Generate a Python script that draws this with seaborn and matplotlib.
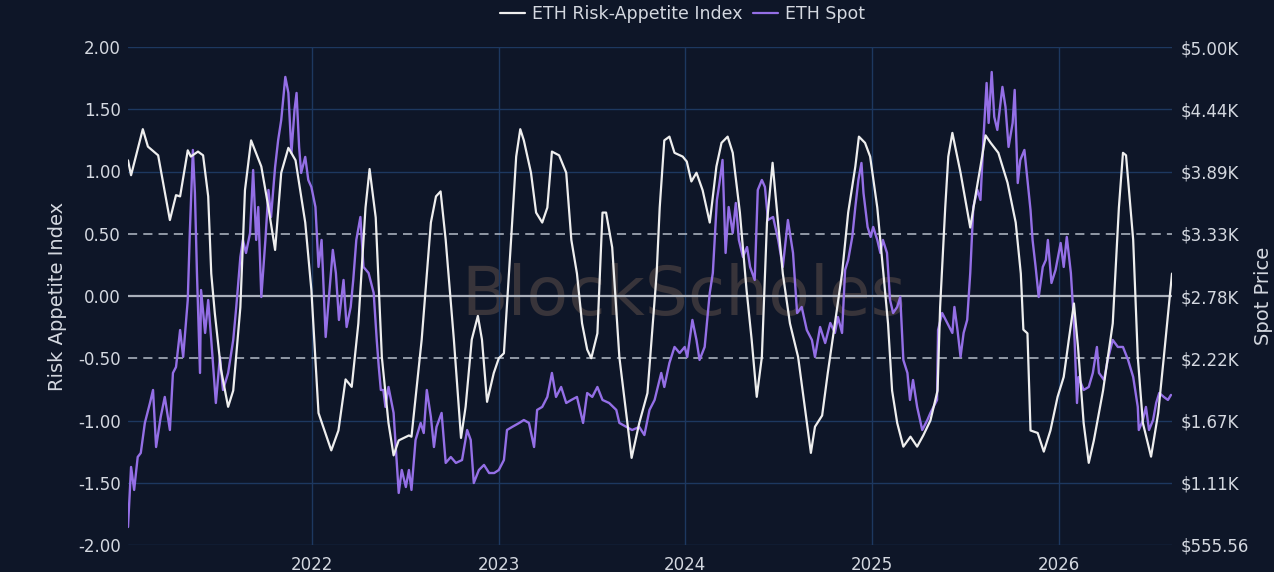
import pandas as pd
import matplotlib.pyplot as plt
import matplotlib.dates as mdates
from matplotlib.lines import Line2D
from matplotlib.ticker import FixedLocator, FuncFormatter
import seaborn as sns

# ============================================
# DATA
# ============================================

idx_dates = [
    "2021-01-05", "2021-01-11", "2021-02-03", "2021-02-13", "2021-03-05", "2021-03-28", "2021-04-09", "2021-04-17",
    "2021-05-02", "2021-05-08", "2021-05-22", "2021-06-01", "2021-06-11", "2021-06-17", "2021-06-24", "2021-07-06",
    "2021-07-20", "2021-07-30", "2021-08-13", "2021-08-22", "2021-09-03", "2021-09-23", "2021-10-07", "2021-10-20",
    "2021-11-01", "2021-11-15", "2021-11-29", "2021-12-18", "2021-12-30",
    "2022-01-13", "2022-02-07", "2022-02-21", "2022-03-07", "2022-03-19", "2022-04-01", "2022-04-15", "2022-04-23",
    "2022-05-05", "2022-05-17", "2022-05-30", "2022-06-09", "2022-06-19", "2022-07-09", "2022-07-14", "2022-08-03",
    "2022-08-21", "2022-08-31", "2022-09-09", "2022-09-19", "2022-10-05", "2022-10-19", "2022-10-28", "2022-11-09",
    "2022-11-21", "2022-11-29", "2022-12-09", "2022-12-22",
    "2023-01-01", "2023-01-11", "2023-01-25", "2023-02-04", "2023-02-12", "2023-02-19", "2023-03-05", "2023-03-15",
    "2023-03-27", "2023-04-06", "2023-04-15", "2023-04-29", "2023-05-13", "2023-05-23", "2023-06-03", "2023-06-13",
    "2023-06-23", "2023-07-01", "2023-07-13", "2023-07-23", "2023-07-30", "2023-08-11", "2023-08-25", "2023-09-18",
    "2023-10-03", "2023-10-19", "2023-11-06", "2023-11-12", "2023-11-21", "2023-12-01", "2023-12-11", "2023-12-27",
    "2024-01-04", "2024-01-13", "2024-01-23", "2024-02-04", "2024-02-18", "2024-03-02", "2024-03-12", "2024-03-24",
    "2024-04-03", "2024-04-17", "2024-04-30", "2024-05-10", "2024-05-20", "2024-05-30", "2024-06-09", "2024-06-20",
    "2024-06-28", "2024-07-10", "2024-07-24", "2024-08-09", "2024-08-22", "2024-09-03", "2024-09-11", "2024-09-25",
    "2024-10-06", "2024-10-20", "2024-11-03", "2024-11-15", "2024-11-29", "2024-12-06", "2024-12-18", "2024-12-28",
    "2025-01-11", "2025-01-23", "2025-02-01", "2025-02-09", "2025-02-19", "2025-03-03", "2025-03-17", "2025-03-30",
    "2025-04-11", "2025-04-25", "2025-05-09", "2025-05-14", "2025-05-24", "2025-05-30", "2025-06-07", "2025-06-23",
    "2025-07-12", "2025-07-22", "2025-08-01", "2025-08-11", "2025-08-21", "2025-09-05", "2025-09-23", "2025-10-09",
    "2025-10-19", "2025-10-24", "2025-11-01", "2025-11-07", "2025-11-21", "2025-12-03", "2025-12-16", "2025-12-30",
    "2026-01-11", "2026-01-21", "2026-01-31", "2026-02-08", "2026-02-19", "2026-03-01", "2026-03-11", "2026-03-29",
    "2026-04-17", "2026-04-29", "2026-05-07", "2026-05-13", "2026-05-27", "2026-06-05", "2026-06-15", "2026-07-01",
    "2026-07-15", "2026-07-26", "2026-08-11",
]

idx_values = [
    1.09, 0.97, 1.34, 1.20, 1.13, 0.61, 0.81, 0.80,
    1.17, 1.12, 1.16, 1.13, 0.80, 0.18, -0.14, -0.59,
    -0.89, -0.76, -0.09, 0.85, 1.25, 1.04, 0.71, 0.37,
    0.99, 1.19, 1.09, 0.59, 0.05,
    -0.94, -1.24, -1.08, -0.67, -0.73, -0.22, 0.71, 1.02,
    0.63, -0.49, -1.02, -1.28, -1.16, -1.12, -1.13, -0.35,
    0.59, 0.80, 0.84, 0.45, -0.35, -1.14, -0.89, -0.35,
    -0.16, -0.35, -0.85, -0.62,
    -0.50, -0.46, 0.45, 1.12, 1.34, 1.25, 0.99, 0.67,
    0.59, 0.71, 1.16, 1.13, 0.99, 0.45, 0.18, -0.22,
    -0.43, -0.50, -0.30, 0.67, 0.67, 0.39, -0.49, -1.30,
    -1.02, -0.78, 0.18, 0.71, 1.25, 1.28, 1.15, 1.12,
    1.08, 0.92, 0.99, 0.85, 0.59, 1.04, 1.23, 1.28,
    1.15, 0.67, 0.05, -0.35, -0.81, -0.49, 0.59, 1.07,
    0.71, 0.18, -0.22, -0.49, -0.89, -1.26, -1.05, -0.96,
    -0.62, -0.22, 0.18, 0.67, 1.04, 1.28, 1.23, 1.12,
    0.71, 0.18, -0.22, -0.76, -1.02, -1.21, -1.13, -1.21,
    -1.12, -1.00, -0.76, -0.09, 0.71, 1.12, 1.31, 0.99,
    0.55, 0.80, 1.04, 1.29, 1.23, 1.15, 0.91, 0.59,
    0.18, -0.27, -0.30, -1.08, -1.10, -1.25, -1.08, -0.81,
    -0.65, -0.35, -0.06, -0.41, -1.02, -1.34, -1.16, -0.76,
    -0.22, 0.71, 1.15, 1.13, 0.45, -0.49, -1.02, -1.29,
    -0.94, -0.49, 0.18,
]

spot_dates = [
    "2021-01-05", "2021-01-11", "2021-01-17", "2021-01-24", "2021-01-30", "2021-02-07", "2021-02-17", "2021-02-23",
    "2021-03-01", "2021-03-10", "2021-03-18", "2021-03-28", "2021-04-03", "2021-04-09", "2021-04-17", "2021-04-23",
    "2021-05-02", "2021-05-06", "2021-05-12", "2021-05-16", "2021-05-20", "2021-05-26", "2021-05-28", "2021-06-05",
    "2021-06-11", "2021-06-17", "2021-06-26", "2021-07-04", "2021-07-10", "2021-07-20", "2021-07-30", "2021-08-05",
    "2021-08-13", "2021-08-18", "2021-08-24", "2021-09-01", "2021-09-07", "2021-09-13", "2021-09-17", "2021-09-23",
    "2021-10-01", "2021-10-07", "2021-10-12", "2021-10-20", "2021-10-26", "2021-11-01", "2021-11-09", "2021-11-15",
    "2021-11-21", "2021-11-27", "2021-12-01", "2021-12-06", "2021-12-10", "2021-12-18", "2021-12-24", "2021-12-30",
    "2022-01-07", "2022-01-13", "2022-01-19", "2022-01-27", "2022-02-02", "2022-02-10", "2022-02-16", "2022-02-22",
    "2022-03-03", "2022-03-09", "2022-03-17", "2022-03-22", "2022-03-28", "2022-04-05", "2022-04-11", "2022-04-21",
    "2022-05-01", "2022-05-07", "2022-05-11", "2022-05-15", "2022-05-20", "2022-05-24", "2022-05-30", "2022-06-09",
    "2022-06-19", "2022-06-25", "2022-07-03", "2022-07-09", "2022-07-14", "2022-07-22", "2022-08-01", "2022-08-07",
    "2022-08-13", "2022-08-21", "2022-08-27", "2022-09-01", "2022-09-11", "2022-09-19", "2022-09-29", "2022-10-09",
    "2022-10-21", "2022-10-31", "2022-11-07", "2022-11-13", "2022-11-23", "2022-12-03", "2022-12-13", "2022-12-23",
    "2023-01-01", "2023-01-11", "2023-01-17", "2023-01-27", "2023-02-10", "2023-02-19", "2023-03-01", "2023-03-11",
    "2023-03-17", "2023-03-27", "2023-04-06", "2023-04-15", "2023-04-23", "2023-05-03", "2023-05-13", "2023-05-23",
    "2023-06-03", "2023-06-15", "2023-06-23", "2023-07-03", "2023-07-13", "2023-07-23", "2023-08-05", "2023-08-19",
    "2023-08-25", "2023-09-08", "2023-09-19", "2023-10-03", "2023-10-13", "2023-10-23", "2023-11-02", "2023-11-15",
    "2023-11-21", "2023-12-01", "2023-12-11", "2023-12-21", "2023-12-31",
    "2024-01-05", "2024-01-15", "2024-01-23", "2024-01-29", "2024-02-08", "2024-02-18", "2024-02-24", "2024-03-03",
    "2024-03-08", "2024-03-14", "2024-03-20", "2024-03-26", "2024-04-03", "2024-04-09", "2024-04-15", "2024-04-23",
    "2024-05-01", "2024-05-07", "2024-05-16", "2024-05-22", "2024-05-30", "2024-06-05", "2024-06-11", "2024-06-21",
    "2024-07-01", "2024-07-10", "2024-07-20", "2024-07-30", "2024-08-07", "2024-08-16", "2024-08-26", "2024-09-05",
    "2024-09-11", "2024-09-21", "2024-10-01", "2024-10-11", "2024-10-20", "2024-10-26", "2024-11-03", "2024-11-09",
    "2024-11-15", "2024-11-23", "2024-11-29", "2024-12-05", "2024-12-11", "2024-12-15", "2024-12-23", "2024-12-29",
    "2025-01-03", "2025-01-11", "2025-01-17", "2025-01-22", "2025-01-30", "2025-02-05", "2025-02-11", "2025-02-19",
    "2025-02-25", "2025-03-03", "2025-03-11", "2025-03-16", "2025-03-22", "2025-03-30", "2025-04-09", "2025-04-19",
    "2025-04-25", "2025-05-01", "2025-05-08", "2025-05-10", "2025-05-18", "2025-05-28", "2025-06-07", "2025-06-11",
    "2025-06-17", "2025-06-23", "2025-06-29", "2025-07-06", "2025-07-12", "2025-07-18", "2025-07-26", "2025-08-01",
    "2025-08-07", "2025-08-13", "2025-08-17", "2025-08-23", "2025-08-28", "2025-09-03", "2025-09-13", "2025-09-19",
    "2025-09-25", "2025-10-03", "2025-10-07", "2025-10-13", "2025-10-18", "2025-10-26", "2025-11-01", "2025-11-07",
    "2025-11-11", "2025-11-17", "2025-11-23", "2025-12-01", "2025-12-07", "2025-12-11", "2025-12-18", "2025-12-26",
    "2026-01-05", "2026-01-11", "2026-01-17", "2026-01-25", "2026-01-31", "2026-02-06", "2026-02-09", "2026-02-19",
    "2026-03-01", "2026-03-09", "2026-03-17", "2026-03-21", "2026-03-31", "2026-04-07", "2026-04-17", "2026-04-27",
    "2026-05-07", "2026-05-17", "2026-05-27", "2026-06-05", "2026-06-07", "2026-06-15", "2026-06-21", "2026-06-27",
    "2026-07-05", "2026-07-11", "2026-07-17", "2026-07-26", "2026-08-03", "2026-08-09",
]

spot_values = [
    716, 1252, 1047, 1341, 1377, 1645, 1823, 1939,
    1430, 1698, 1877, 1582, 2091, 2144, 2474, 2234,
    2742, 3340, 4081, 3697, 2983, 2091, 2831, 2448,
    2742, 2385, 1823, 2234, 1939, 2091, 2385, 2680,
    3126, 3278, 3162, 3340, 3902, 3278, 3572, 2769,
    3278, 3724, 3483, 3929, 4170, 4349, 4733, 4590,
    4054, 4438, 4590, 4108, 3876, 4019, 3813, 3751,
    3572, 3037, 3278, 2412, 2742, 3189, 2983, 2564,
    2921, 2501, 2680, 2921, 3278, 3483, 3037, 2983,
    2805, 2385, 2144, 1939, 1939, 1788, 1966, 1734,
    1020, 1225, 1073, 1225, 1047, 1493, 1645, 1555,
    1939, 1698, 1430, 1609, 1734, 1288, 1341, 1288,
    1314, 1582, 1493, 1109, 1225, 1270, 1198, 1198,
    1225, 1314, 1582, 1609, 1645, 1671, 1645, 1430,
    1761, 1788, 1877, 2091, 1877, 1966, 1823, 1850,
    1877, 1645, 1912, 1877, 1966, 1850, 1823, 1761,
    1645, 1609, 1582, 1609, 1537, 1761, 1850, 2091,
    1966, 2180, 2323, 2269, 2323,
    2234, 2564, 2385, 2207, 2323, 2805, 2983, 3635,
    3786, 3992, 3162, 3572, 3340, 3608, 3278, 3126,
    3215, 3037, 2921, 3724, 3813, 3751, 3456, 3483,
    3278, 3037, 3456, 3162, 2626, 2680, 2474, 2385,
    2234, 2501, 2358, 2537, 2448, 2590, 2448, 3010,
    3099, 3305, 3572, 3813, 3965, 3697, 3394, 3305,
    3394, 3278, 3162, 3278, 3162, 2742, 2626, 2680,
    2769, 2207, 2091, 1850, 2028, 1788, 1582, 1671,
    1734, 1788, 1850, 2474, 2626, 2537, 2448, 2680,
    2474, 2234, 2448, 2564, 2983, 3572, 3724, 3635,
    4197, 4679, 4322, 4777, 4376, 4260, 4644, 4465,
    4108, 4322, 4617, 3786, 3992, 4081, 3813, 3545,
    3278, 3037, 2769, 3037, 3099, 3278, 2894, 3010,
    3251, 3037, 3305, 2983, 2537, 1823, 2055, 1939,
    1966, 2091, 2323, 2091, 2028, 2207, 2385, 2323,
    2323, 2207, 2055, 1788, 1582, 1671, 1788, 1582,
    1671, 1823, 1912, 1877, 1850, 1895,
]

left_ticks = [-2.0, -1.5, -1.0, -0.5, 0.0, 0.5, 1.0, 1.5, 2.0]
right_ticks = [555.56, 1111.11, 1666.67, 2222.22, 2777.78, 3333.33, 3888.89, 4444.44, 5000.0]
dashed_levels = [-0.5, 0.5]

# ============================================
# STYLE
# ============================================

BG = '#0e1628'
TEXT = '#d4d8e0'
GRID = '#1d3860'
WHITE = '#eeeeee'
PURPLE = '#946fe6'

sns.set_theme(style='dark', rc={
    'axes.facecolor': BG,
    'figure.facecolor': BG,
    'axes.edgecolor': BG,
    'text.color': TEXT,
    'axes.labelcolor': TEXT,
    'xtick.color': TEXT,
    'ytick.color': TEXT,
})
plt.rcParams['font.family'] = ['DejaVu Sans']

idx_df = pd.DataFrame({'date': pd.to_datetime(idx_dates), 'value': idx_values})
spot_df = pd.DataFrame({'date': pd.to_datetime(spot_dates), 'price': spot_values})

# ============================================
# PLOT
# ============================================

fig = plt.figure(figsize=(12.74, 5.72), dpi=100)
ax = fig.add_axes([128 / 1274, 1 - 545 / 572, 1044 / 1274, 498 / 572])
ax_spot = ax.twinx()
ax_top = ax.twinx()

# watermark
ax.text(0.532, 0.5, 'BlockScholes', transform=ax.transAxes, ha='center', va='center',
        fontsize=49, color='#38343a', zorder=0)

# grid lines
ax.xaxis.grid(True, color=GRID, lw=1)
for lv in left_ticks:
    if lv in dashed_levels:
        ax.axhline(lv, color='#b4bcc8', lw=1.1, ls=(0, (6, 4)), zorder=1)
    elif lv == 0:
        ax.axhline(lv, color='#aab0bb', lw=1.6, zorder=1)
    else:
        ax.axhline(lv, color=GRID, lw=1, zorder=1)

sns.lineplot(data=spot_df, x='date', y='price', ax=ax_spot, color=PURPLE, lw=1.7, legend=False)
sns.lineplot(data=idx_df, x='date', y='value', ax=ax_top, color=WHITE, lw=1.6, legend=False)

xmin = min(idx_df['date'].min(), spot_df['date'].min())
xmax = max(idx_df['date'].max(), spot_df['date'].max())
ax.set_xlim(xmin, xmax)

ax.set_ylim(-2, 2)
ax_top.set_ylim(-2, 2)
ax_spot.set_ylim(right_ticks[0], right_ticks[-1])

ax.yaxis.set_major_locator(FixedLocator(left_ticks))
ax.yaxis.set_major_formatter(FuncFormatter(lambda v, p: f'{v:.2f}'))
ax_spot.yaxis.set_major_locator(FixedLocator(right_ticks))
ax_spot.yaxis.set_major_formatter(FuncFormatter(
    lambda v, p: f'${v:.2f}' if v < 1000 else f'${v / 1000:.2f}K'))

ax.xaxis.set_major_locator(mdates.YearLocator())
ax.xaxis.set_major_formatter(mdates.DateFormatter('%Y'))

ax.tick_params(axis='both', length=0, labelsize=12, pad=5)
ax.tick_params(axis='x', pad=8)
ax_spot.tick_params(axis='y', length=0, labelsize=12, pad=6)
ax_top.axis('off')

ax.set_xlabel('')
ax.set_ylabel('Risk Appetite Index', fontsize=14, labelpad=8)
ax_spot.set_xlabel('')
ax_spot.set_ylabel('Spot Price', fontsize=14, labelpad=4)

for a in (ax, ax_spot):
    for s in a.spines.values():
        s.set_visible(False)

handles = [Line2D([], [], color=WHITE, lw=1.6), Line2D([], [], color=PURPLE, lw=1.6)]
fig.legend(handles, ['ETH Risk-Appetite Index', 'ETH Spot'], loc='center',
           bbox_to_anchor=(0.536, 0.975), ncol=2, frameon=False, fontsize=12.5,
           handlelength=1.45, handletextpad=0.4, columnspacing=0.6, labelcolor=TEXT)

plt.savefig('out.png', dpi=100, facecolor=BG)
print("Chart saved!")
